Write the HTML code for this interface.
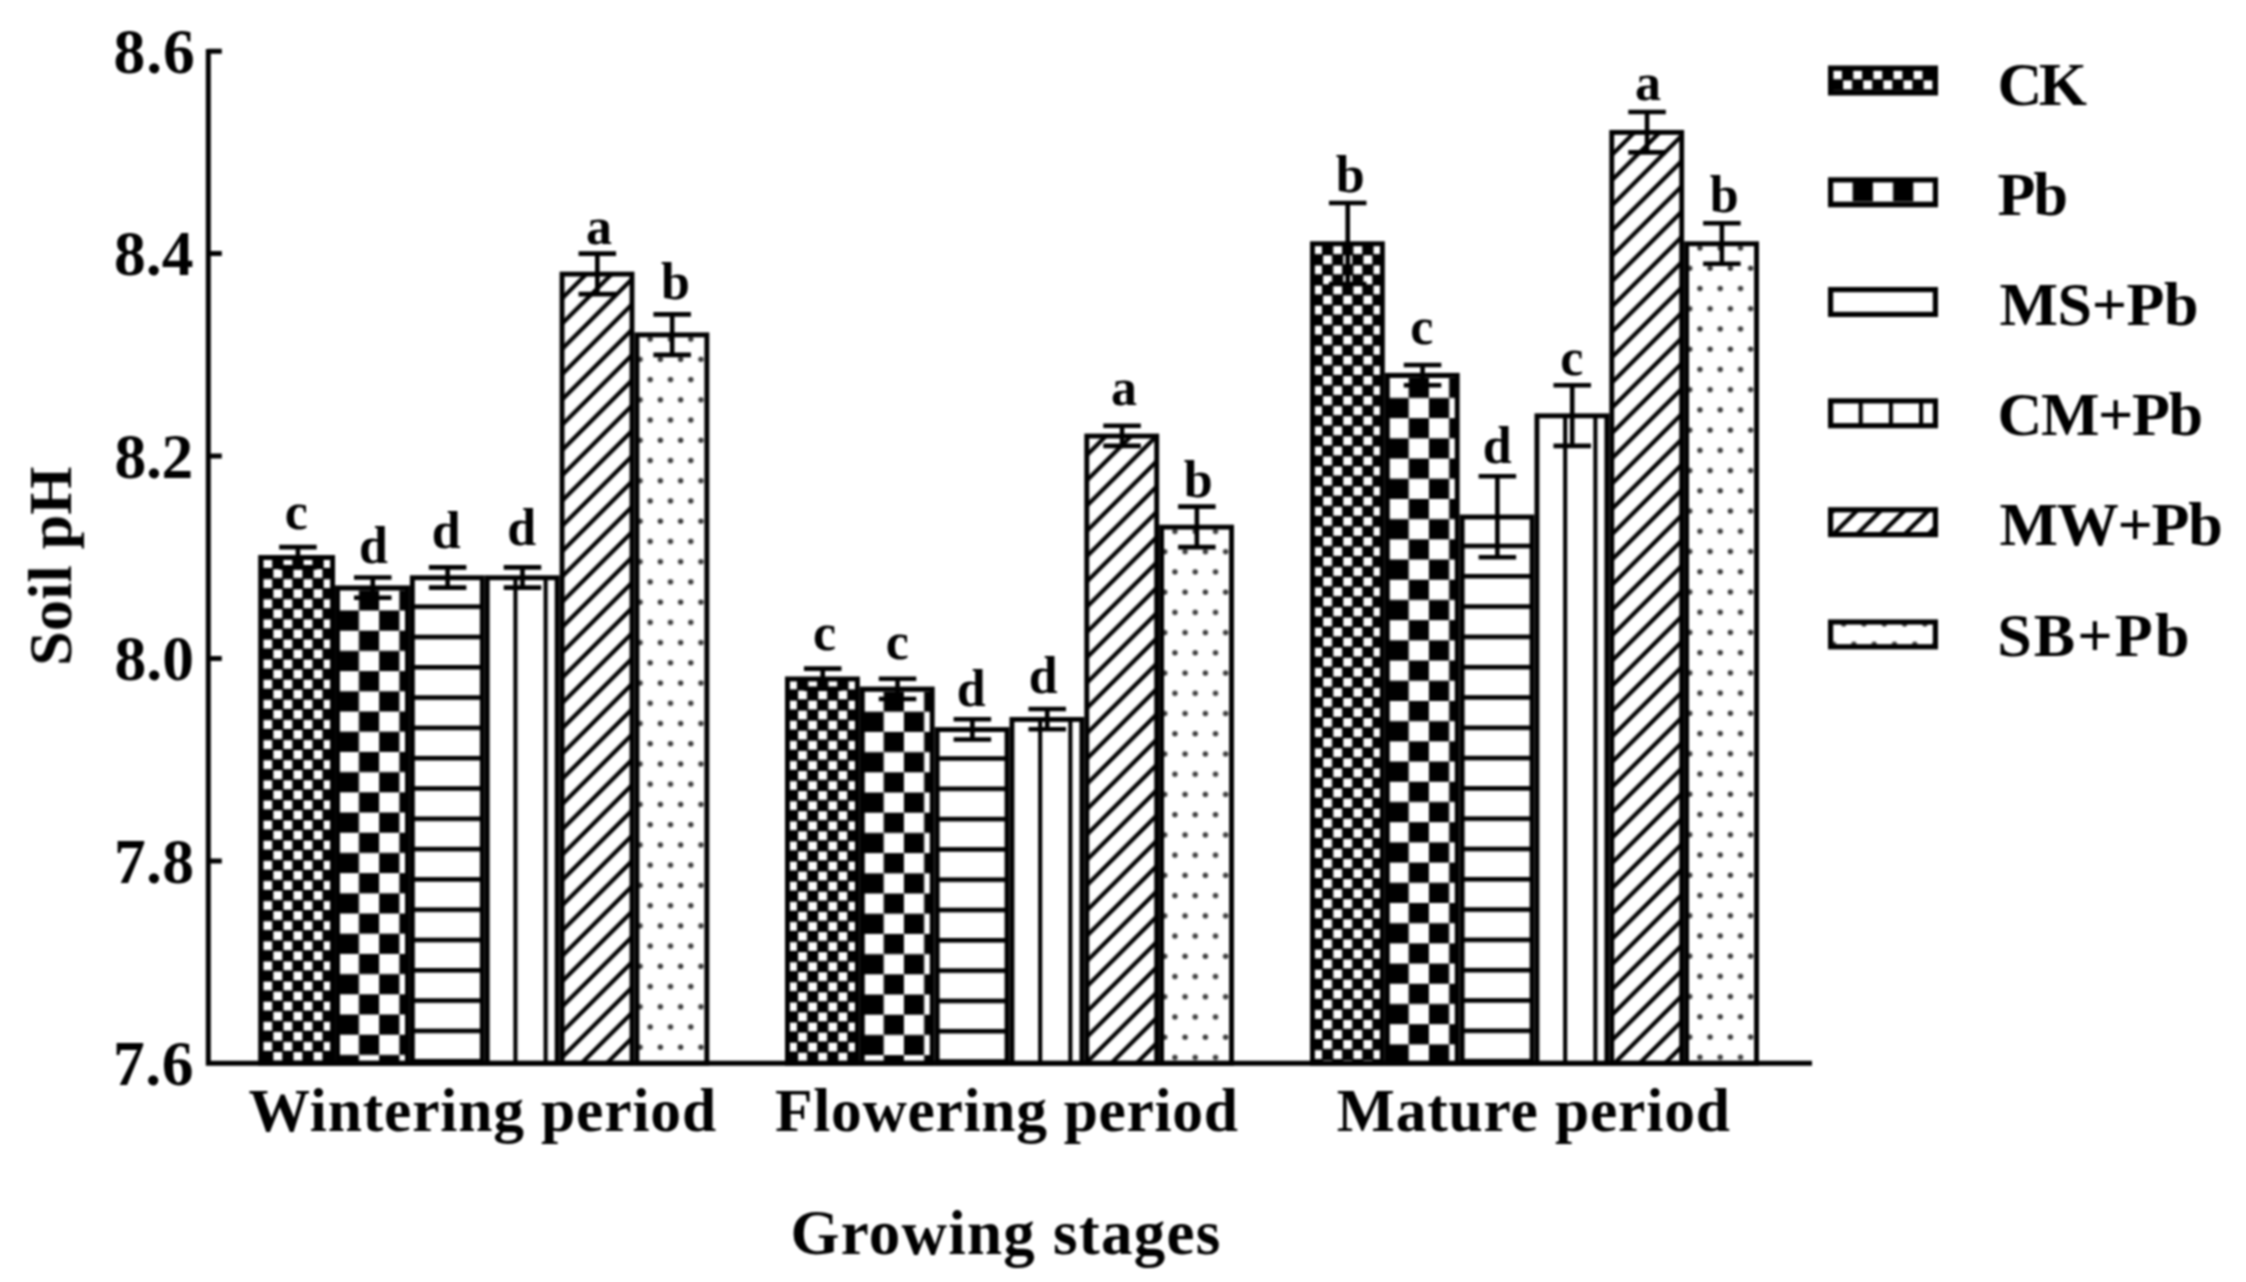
<!DOCTYPE html>
<html lang="en">
<head>
<meta charset="utf-8">
<title>Soil pH at different growing stages</title>
<style>
html,body{margin:0;padding:0;background:#fff;}
body{width:2246px;height:1282px;overflow:hidden;}
svg{display:block;}
svg text{font-family:"Liberation Serif", serif;font-weight:bold;fill:#000;}
</style>
</head>
<body>
<svg width="2246" height="1282" viewBox="0 0 2246 1282">
<defs>
<pattern id="ck1" patternUnits="userSpaceOnUse" x="262.7" y="558.45" width="20.12" height="20.12"><rect width="20.12" height="20.12" fill="#000"/><rect x="0.63" y="0.63" width="8.8" height="8.8" fill="#fff"/><rect x="10.69" y="10.69" width="8.8" height="8.8" fill="#fff"/></pattern>
<pattern id="pb2" patternUnits="userSpaceOnUse" x="338.75" y="590.31" width="40.4" height="40.4"><rect width="40.4" height="40.4" fill="#fff"/><rect x="20.2" y="0" width="20.2" height="20.2" fill="#000"/><rect x="0" y="20.2" width="20.2" height="20.2" fill="#000"/></pattern>
<pattern id="hl3" patternUnits="userSpaceOnUse" x="409.9" y="604.39" width="40" height="30.3"><rect width="40" height="30.3" fill="#fff"/><rect x="0" y="0" width="40" height="4.6" fill="#000"/></pattern>
<pattern id="vl4" patternUnits="userSpaceOnUse" x="513.4" y="575.29" width="30.2" height="40"><rect width="30.2" height="40" fill="#fff"/><rect x="0" y="0" width="4.1" height="40" fill="#000"/></pattern>
<pattern id="dg5" patternUnits="userSpaceOnUse" x="0.25" y="0" width="25.3" height="25.3"><rect width="25.3" height="25.3" fill="#fff"/><path d="M-25.3 25.3 L25.3 -25.3 M-25.3 50.6 L50.6 -25.3 M0 50.6 L50.6 0" stroke="#000" stroke-width="4.2" fill="none"/></pattern>
<pattern id="dt6" patternUnits="userSpaceOnUse" x="629.9" y="349.27" width="20.3" height="40.46"><rect width="20.3" height="40.46" fill="#fff"/><circle cx="10.15" cy="10.12" r="2.7" fill="#3a3a3a"/><circle cx="0" cy="30.34" r="2.7" fill="#3a3a3a"/><circle cx="20.3" cy="30.34" r="2.7" fill="#3a3a3a"/></pattern>
<pattern id="ck7" patternUnits="userSpaceOnUse" x="787.5" y="679.9" width="20.12" height="20.12"><rect width="20.12" height="20.12" fill="#000"/><rect x="0.63" y="0.63" width="8.8" height="8.8" fill="#fff"/><rect x="10.69" y="10.69" width="8.8" height="8.8" fill="#fff"/></pattern>
<pattern id="pb8" patternUnits="userSpaceOnUse" x="863.53" y="691.52" width="40.4" height="40.4"><rect width="40.4" height="40.4" fill="#fff"/><rect x="20.2" y="0" width="20.2" height="20.2" fill="#000"/><rect x="0" y="20.2" width="20.2" height="20.2" fill="#000"/></pattern>
<pattern id="hl9" patternUnits="userSpaceOnUse" x="934.67" y="756.21" width="40" height="30.3"><rect width="40" height="30.3" fill="#fff"/><rect x="0" y="0" width="40" height="4.6" fill="#000"/></pattern>
<pattern id="vl10" patternUnits="userSpaceOnUse" x="1038.15" y="716.99" width="30.2" height="40"><rect width="30.2" height="40" fill="#fff"/><rect x="0" y="0" width="4.1" height="40" fill="#000"/></pattern>
<pattern id="dg11" patternUnits="userSpaceOnUse" x="24" y="0" width="25.3" height="25.3"><rect width="25.3" height="25.3" fill="#fff"/><path d="M-25.3 25.3 L25.3 -25.3 M-25.3 50.6 L50.6 -25.3 M0 50.6 L50.6 0" stroke="#000" stroke-width="4.2" fill="none"/></pattern>
<pattern id="dt12" patternUnits="userSpaceOnUse" x="1154.62" y="541.57" width="20.3" height="40.46"><rect width="20.3" height="40.46" fill="#fff"/><circle cx="10.15" cy="10.12" r="2.7" fill="#3a3a3a"/><circle cx="0" cy="30.34" r="2.7" fill="#3a3a3a"/><circle cx="20.3" cy="30.34" r="2.7" fill="#3a3a3a"/></pattern>
<pattern id="ck13" patternUnits="userSpaceOnUse" x="1312.5" y="244.7" width="20.12" height="20.12"><rect width="20.12" height="20.12" fill="#000"/><rect x="0.63" y="0.63" width="8.8" height="8.8" fill="#fff"/><rect x="10.69" y="10.69" width="8.8" height="8.8" fill="#fff"/></pattern>
<pattern id="pb14" patternUnits="userSpaceOnUse" x="1388.53" y="377.77" width="40.4" height="40.4"><rect width="40.4" height="40.4" fill="#fff"/><rect x="20.2" y="0" width="20.2" height="20.2" fill="#000"/><rect x="0" y="20.2" width="20.2" height="20.2" fill="#000"/></pattern>
<pattern id="hl15" patternUnits="userSpaceOnUse" x="1459.67" y="543.67" width="40" height="30.3"><rect width="40" height="30.3" fill="#fff"/><rect x="0" y="0" width="40" height="4.6" fill="#000"/></pattern>
<pattern id="vl16" patternUnits="userSpaceOnUse" x="1563.15" y="413.36" width="30.2" height="40"><rect width="30.2" height="40" fill="#fff"/><rect x="0" y="0" width="4.1" height="40" fill="#000"/></pattern>
<pattern id="dg17" patternUnits="userSpaceOnUse" x="21.1" y="0" width="25.3" height="25.3"><rect width="25.3" height="25.3" fill="#fff"/><path d="M-25.3 25.3 L25.3 -25.3 M-25.3 50.6 L50.6 -25.3 M0 50.6 L50.6 0" stroke="#000" stroke-width="4.2" fill="none"/></pattern>
<pattern id="dt18" patternUnits="userSpaceOnUse" x="1679.62" y="258.18" width="20.3" height="40.46"><rect width="20.3" height="40.46" fill="#fff"/><circle cx="10.15" cy="10.12" r="2.7" fill="#3a3a3a"/><circle cx="0" cy="30.34" r="2.7" fill="#3a3a3a"/><circle cx="20.3" cy="30.34" r="2.7" fill="#3a3a3a"/></pattern>
<pattern id="ck19" patternUnits="userSpaceOnUse" x="1832.5" y="69.8" width="20.12" height="20.12"><rect width="20.12" height="20.12" fill="#000"/><rect x="0.63" y="0.63" width="8.8" height="8.8" fill="#fff"/><rect x="10.69" y="10.69" width="8.8" height="8.8" fill="#fff"/></pattern>
<pattern id="pb20" patternUnits="userSpaceOnUse" x="1832.5" y="181.6" width="40.4" height="40.4"><rect width="40.4" height="40.4" fill="#fff"/><rect x="20.2" y="0" width="20.2" height="20.2" fill="#000"/><rect x="0" y="20.2" width="20.2" height="20.2" fill="#000"/></pattern>
<pattern id="hl21" patternUnits="userSpaceOnUse" x="1828" y="316.1" width="40" height="30.3"><rect width="40" height="30.3" fill="#fff"/><rect x="0" y="0" width="40" height="4.6" fill="#000"/></pattern>
<pattern id="vl22" patternUnits="userSpaceOnUse" x="1858.65" y="398.3" width="30.2" height="40"><rect width="30.2" height="40" fill="#fff"/><rect x="0" y="0" width="4.1" height="40" fill="#000"/></pattern>
<pattern id="dg23" patternUnits="userSpaceOnUse" x="14.37" y="0" width="23.77" height="23.77"><rect width="23.77" height="23.77" fill="#fff"/><path d="M-23.77 23.77 L23.77 -23.77 M-23.77 47.54 L47.54 -23.77 M0 47.54 L47.54 0" stroke="#000" stroke-width="4.3" fill="none"/></pattern>
<pattern id="dt24" patternUnits="userSpaceOnUse" x="1833.55" y="613.88" width="20.3" height="40.46"><rect width="20.3" height="40.46" fill="#fff"/><circle cx="10.15" cy="10.12" r="2.7" fill="#3a3a3a"/><circle cx="0" cy="30.34" r="2.7" fill="#3a3a3a"/><circle cx="20.3" cy="30.34" r="2.7" fill="#3a3a3a"/></pattern>
<filter id="soft" color-interpolation-filters="sRGB" filterUnits="userSpaceOnUse" x="0" y="0" width="2246" height="1282"><feGaussianBlur stdDeviation="0.8"/></filter>
</defs>
<rect width="2246" height="1282" fill="#fff"/>
<g filter="url(#soft)">
<g id="chart">
<rect x="260.65" y="557.5" width="71.95" height="505.8" fill="url(#ck1)" stroke="#000" stroke-width="4.9"/>
<rect x="337.5" y="587.86" width="69.95" height="475.44" fill="url(#pb2)" stroke="#000" stroke-width="4.9"/>
<rect x="412.35" y="577.74" width="69.95" height="485.56" fill="url(#hl3)" stroke="#000" stroke-width="4.9"/>
<rect x="487.2" y="577.74" width="69.95" height="485.56" fill="url(#vl4)" stroke="#000" stroke-width="4.9"/>
<rect x="562.05" y="274.11" width="69.95" height="789.19" fill="url(#dg5)" stroke="#000" stroke-width="4.9"/>
<rect x="636.9" y="334.84" width="69.95" height="728.46" fill="url(#dt6)" stroke="#000" stroke-width="4.9"/>
<rect x="787.45" y="678.95" width="69.93" height="384.35" fill="url(#ck7)" stroke="#000" stroke-width="4.9"/>
<rect x="862.28" y="689.07" width="69.93" height="374.23" fill="url(#pb8)" stroke="#000" stroke-width="4.9"/>
<rect x="937.12" y="729.56" width="69.93" height="333.74" fill="url(#hl9)" stroke="#000" stroke-width="4.9"/>
<rect x="1011.95" y="719.44" width="69.93" height="343.86" fill="url(#vl10)" stroke="#000" stroke-width="4.9"/>
<rect x="1086.78" y="436.05" width="69.93" height="627.25" fill="url(#dg11)" stroke="#000" stroke-width="4.9"/>
<rect x="1161.62" y="527.14" width="69.93" height="536.16" fill="url(#dt12)" stroke="#000" stroke-width="4.9"/>
<rect x="1312.45" y="243.75" width="69.93" height="819.55" fill="url(#ck13)" stroke="#000" stroke-width="4.9"/>
<rect x="1387.28" y="375.32" width="69.93" height="687.98" fill="url(#pb14)" stroke="#000" stroke-width="4.9"/>
<rect x="1462.12" y="517.02" width="69.93" height="546.28" fill="url(#hl15)" stroke="#000" stroke-width="4.9"/>
<rect x="1536.95" y="415.81" width="69.93" height="647.49" fill="url(#vl16)" stroke="#000" stroke-width="4.9"/>
<rect x="1611.78" y="132.42" width="69.93" height="930.88" fill="url(#dg17)" stroke="#000" stroke-width="4.9"/>
<rect x="1686.62" y="243.75" width="69.93" height="819.55" fill="url(#dt18)" stroke="#000" stroke-width="4.9"/>
<path d="M297.93 547.13V567.37M279.18 547.13H316.68M279.18 567.37H316.68M372.77 577.49V597.73M354.02 577.49H391.52M354.02 597.73H391.52M447.62 567.37V587.61M428.88 567.37H466.38M428.88 587.61H466.38M522.47 567.37V587.61M503.72 567.37H541.22M503.72 587.61H541.22M597.32 253.62V294.1M578.57 253.62H616.07M578.57 294.1H616.07M672.17 314.35V354.83M653.42 314.35H690.92M653.42 354.83H690.92M822.72 668.58V688.82M803.97 668.58H841.47M803.97 688.82H841.47M897.55 678.7V698.94M878.8 678.7H916.3M878.8 698.94H916.3M972.38 719.19V739.43M953.63 719.19H991.13M953.63 739.43H991.13M1047.22 709.06V729.31M1028.47 709.06H1065.97M1028.47 729.31H1065.97M1122.05 425.68V445.92M1103.3 425.68H1140.8M1103.3 445.92H1140.8M1196.88 506.64V547.13M1178.13 506.64H1215.63M1178.13 547.13H1215.63M1347.72 203.02V283.98M1328.97 203.02H1366.47M1328.97 283.98H1366.47M1422.55 364.95V385.19M1403.8 364.95H1441.3M1403.8 385.19H1441.3M1497.38 476.28V557.25M1478.63 476.28H1516.13M1478.63 557.25H1516.13M1572.22 385.19V445.92M1553.47 385.19H1590.97M1553.47 445.92H1590.97M1647.05 111.93V152.41M1628.3 111.93H1665.8M1628.3 152.41H1665.8M1721.88 223.26V263.74M1703.13 223.26H1740.63M1703.13 263.74H1740.63" stroke="#000" stroke-width="4.6" fill="none"/>
<path d="M208.3 49V1065.8M205.8 1063.3H1812M208.3 51.2H221.8M208.3 253.62H221.8M208.3 456.04H221.8M208.3 658.46H221.8M208.3 860.88H221.8" stroke="#000" stroke-width="5.0" fill="none"/>
<rect x="1830.6" y="68.1" width="104.8" height="24.8" fill="url(#ck19)" stroke="#000" stroke-width="5.2"/>
<rect x="1830.6" y="179.9" width="104.8" height="24.8" fill="url(#pb20)" stroke="#000" stroke-width="5.2"/>
<rect x="1830.6" y="289.6" width="104.8" height="24.8" fill="url(#hl21)" stroke="#000" stroke-width="5.2"/>
<rect x="1830.6" y="400.9" width="104.8" height="24.8" fill="url(#vl22)" stroke="#000" stroke-width="5.2"/>
<rect x="1830.6" y="509.8" width="104.8" height="24.8" fill="url(#dg23)" stroke="#000" stroke-width="5.2"/>
<rect x="1830.6" y="622" width="104.8" height="24.8" fill="url(#dt24)" stroke="#000" stroke-width="5.2"/>
</g>
<g id="labels">
<text x="113.6" y="72.9" font-size="63.5" letter-spacing="0.95">8.6</text>
<text x="114" y="275.32" font-size="63.5">8.4</text>
<text x="114.6" y="477.74" font-size="63.5" letter-spacing="-0.3">8.2</text>
<text x="114.5" y="680.16" font-size="63.5">8.0</text>
<text x="114" y="882.58" font-size="63.5" letter-spacing="0.25">7.8</text>
<text x="113" y="1085" font-size="63.5" letter-spacing="0.5">7.6</text>
<text x="248.5" y="1131.2" font-size="61.5" letter-spacing="0.84">Wintering period</text>
<text x="775" y="1131.2" font-size="61.5" letter-spacing="0.69">Flowering period</text>
<text x="1336.8" y="1131.2" font-size="61.5" letter-spacing="0.83">Mature period</text>
<text x="790.5" y="1254" font-size="63" letter-spacing="1.24">Growing stages</text>
<text transform="translate(71 665.8) rotate(-90)" font-size="62" letter-spacing="0.2">Soil pH</text>
<text x="296.2" y="529.1" font-size="52" text-anchor="middle">c</text>
<text x="373.4" y="562.5" font-size="52" text-anchor="middle">d</text>
<text x="446.2" y="547.8" font-size="52" text-anchor="middle">d</text>
<text x="521.6" y="545.1" font-size="52" text-anchor="middle">d</text>
<text x="599.1" y="243.6" font-size="52" text-anchor="middle">a</text>
<text x="675.4" y="298.6" font-size="52" text-anchor="middle">b</text>
<text x="824.5" y="649.8" font-size="52" text-anchor="middle">c</text>
<text x="897.3" y="659.1" font-size="52" text-anchor="middle">c</text>
<text x="971.2" y="705.9" font-size="52" text-anchor="middle">d</text>
<text x="1043.3" y="692.5" font-size="52" text-anchor="middle">d</text>
<text x="1124.1" y="404.7" font-size="52" text-anchor="middle">a</text>
<text x="1198.1" y="497.4" font-size="52" text-anchor="middle">b</text>
<text x="1350.3" y="192.3" font-size="52" text-anchor="middle">b</text>
<text x="1421.9" y="344.3" font-size="52" text-anchor="middle">c</text>
<text x="1497.3" y="463.2" font-size="52" text-anchor="middle">d</text>
<text x="1571.9" y="375.4" font-size="52" text-anchor="middle">c</text>
<text x="1648.1" y="100.3" font-size="52" text-anchor="middle">a</text>
<text x="1724.1" y="211.6" font-size="52" text-anchor="middle">b</text>
<text x="1997.5" y="104.6" font-size="62" letter-spacing="-3.5">CK</text>
<text x="1997.5" y="215" font-size="62" letter-spacing="-1.8">Pb</text>
<text x="1999.5" y="324.6" font-size="62" letter-spacing="-0.42">MS+Pb</text>
<text x="1997.5" y="435" font-size="62" letter-spacing="-1.35">CM+Pb</text>
<text x="1999.5" y="545.2" font-size="62" letter-spacing="-1.27">MW+Pb</text>
<text x="1997.2" y="656" font-size="62" letter-spacing="2.17">SB+Pb</text>
</g>
</g>
</svg>
</body>
</html>
